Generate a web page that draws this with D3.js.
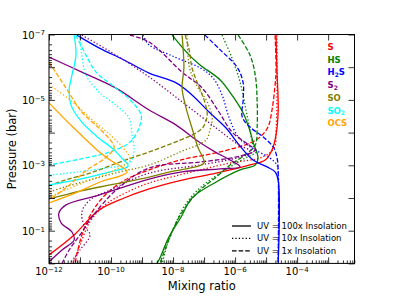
<!DOCTYPE html>
<html>
<head>
<meta charset="utf-8">
<script src="https://cdn.jsdelivr.net/npm/d3@7"></script>
<style>
  body { margin: 0; background: #fff; }
  text { font-family: "DejaVu Sans", sans-serif; }
</style>
</head>
<body>
<script>
// Mixing ratio profiles.
// Each point is [log10(mixing ratio), log10(pressure / bar)], top of atmosphere first.
const S_100x = [[-4.68,-6.98],[-4.65,-5.91],[-4.61,-4.69],[-4.68,-3.93],[-4.81,-3.47],[-5.03,-3.16],[-5.52,-3.01],[-6.61,-2.76],[-7.71,-2.55],[-8.77,-2.28],[-9.58,-2.00],[-10.39,-1.63],[-11.19,-0.87],[-12,-0.26]];
const S_10x  = [[-4.65,-6.98],[-4.65,-5.91],[-4.65,-5.0],[-4.68,-4.08],[-4.74,-3.53],[-5.13,-3.25],[-6.16,-3.07],[-7.13,-2.86],[-7.94,-2.67],[-8.77,-2.46],[-9.55,-2.15],[-10.19,-1.79],[-10.68,-1.27],[-11.0,-0.56],[-11.23,0]];
const S_1x   = [[-4.71,-6.98],[-4.68,-5.91],[-4.71,-5.46],[-4.81,-4.69],[-4.94,-4.17],[-5.19,-3.87],[-5.52,-3.68],[-6.48,-3.41],[-7.77,-3.16],[-8.77,-2.86],[-9.55,-2.55],[-10.19,-2.09],[-10.61,-1.57],[-10.94,-0.87],[-11.16,0]];

const HS_100x = [[-8.03,-6.98],[-7.48,-6.37],[-7.13,-6.07],[-6.48,-5.61],[-6.06,-5.09],[-5.74,-4.60],[-5.55,-4.14],[-5.42,-3.71],[-5.26,-3.22],[-5.35,-3.01],[-5.84,-2.86],[-6.61,-2.49],[-7.39,-2.0],[-7.74,-1.42],[-8.13,-0.81],[-8.45,-0.11],[-8.52,0]];
const HS_10x  = [[-6.42,-6.98],[-6.10,-6.28],[-5.84,-5.55],[-5.68,-4.84],[-5.55,-4.23],[-5.42,-3.62],[-5.32,-3.41],[-5.68,-3.22],[-6.48,-2.76],[-7.13,-2.31],[-7.61,-1.79],[-7.94,-1.17],[-8.19,-0.56],[-8.35,0]];
const HS_1x   = [[-5.90,-6.98],[-5.52,-6.37],[-5.35,-5.76],[-5.29,-5.0],[-5.29,-4.14],[-5.35,-3.62],[-5.68,-3.32],[-6.16,-3.01],[-6.61,-2.64],[-7.13,-2.24],[-7.71,-1.57],[-8.10,-0.81],[-8.42,0]];

const H2S_100x = [[-11.10,-6.98],[-10.39,-6.59],[-9.58,-6.22],[-8.77,-5.82],[-7.90,-5.52],[-7.39,-5.15],[-6.84,-4.63],[-6.29,-4.14],[-5.87,-3.62],[-5.42,-3.16],[-4.97,-2.95],[-4.71,-2.80],[-4.61,-2.55],[-4.61,0]];
const H2S_10x  = [[-8.97,-6.98],[-8.77,-6.68],[-7.94,-6.31],[-7.13,-5.98],[-6.71,-5.67],[-6.42,-5.15],[-6.19,-4.45],[-5.87,-3.83],[-5.35,-3.47],[-4.87,-3.22],[-4.65,-3.01],[-4.61,-2.80],[-4.61,0]];
const H2S_1x   = [[-6.97,-6.98],[-6.48,-6.53],[-5.94,-6.01],[-5.74,-5.52],[-5.74,-5.0],[-5.77,-4.48],[-5.52,-4.17],[-5.10,-3.87],[-4.77,-3.56],[-4.65,-3.25],[-4.61,-2.80],[-4.61,0]];

const S2_100x = [[-12,-6.31],[-10.94,-5.85],[-9.84,-5.36],[-8.77,-4.69],[-7.90,-4.23],[-7.16,-3.71],[-6.65,-3.41],[-6.16,-3.16],[-5.84,-2.95],[-6.48,-2.89],[-7.71,-2.80],[-8.77,-2.58],[-10.39,-2.09],[-11.45,-1.79],[-11.68,-1.54],[-11.61,-1.24],[-11.26,-0.96],[-11.19,-0.72],[-11.58,-0.41],[-12,-0.05]];
const S2_10x  = [[-10.94,-6.98],[-9.84,-6.37],[-8.77,-5.70],[-7.71,-4.94],[-6.61,-4.14],[-5.87,-3.62],[-5.45,-3.41],[-5.84,-3.25],[-7.13,-3.01],[-8.77,-2.76],[-10.03,-2.24],[-10.68,-1.94],[-10.94,-1.57],[-10.87,-1.17],[-10.68,-0.87],[-11.0,-0.41],[-11.32,0]];
const S2_1x   = [[-9.39,-6.98],[-8.77,-6.77],[-7.71,-5.85],[-7.06,-5.36],[-6.52,-4.63],[-6.10,-4.02],[-5.55,-3.62],[-5.35,-3.47],[-5.84,-3.28],[-7.13,-3.10],[-8.77,-2.92],[-9.84,-2.24],[-10.61,-1.42],[-11.0,-0.87],[-11.35,-0.41],[-11.58,0]];

const SO_100x = [[-7.71,-6.98],[-7.65,-5.98],[-7.71,-5.36],[-7.58,-4.75],[-7.39,-4.14],[-7.19,-3.53],[-7.03,-3.22],[-7.0,-3.07],[-7.16,-2.98],[-8.10,-2.80],[-8.77,-2.64],[-10.03,-2.40],[-11.0,-2.21],[-12,-1.97]];
const SO_10x  = [[-7.55,-6.98],[-7.52,-6.37],[-7.45,-5.91],[-7.19,-5.36],[-6.90,-4.94],[-6.74,-4.45],[-6.81,-4.08],[-6.94,-3.77],[-7.77,-3.41],[-8.77,-3.01],[-9.71,-2.80],[-10.68,-2.55],[-11.48,-2.34],[-12,-2.18]];
const SO_1x   = [[-7.61,-6.98],[-7.48,-6.53],[-7.39,-5.98],[-7.19,-5.46],[-7.0,-5.0],[-6.90,-4.54],[-7.03,-4.17],[-7.26,-3.99],[-7.77,-3.77],[-8.77,-3.41],[-9.71,-3.10],[-10.68,-2.76],[-11.48,-2.55],[-12,-2.37]];

const SO2_100x = [[-11.19,-6.98],[-11.13,-6.37],[-11.26,-5.76],[-11.35,-5.30],[-11.29,-4.84],[-10.94,-4.32],[-10.39,-3.83],[-9.97,-3.53],[-9.65,-3.22],[-9.45,-2.98],[-10.03,-2.80],[-11.0,-2.58],[-12,-2.40]];
const SO2_10x  = [[-11.03,-6.98],[-10.94,-6.37],[-10.81,-5.76],[-10.39,-5.24],[-9.84,-4.84],[-9.42,-4.45],[-9.32,-3.93],[-9.26,-3.47],[-9.39,-3.10],[-10.35,-2.89],[-12,-2.70]];
const SO2_1x   = [[-11.13,-6.98],[-10.81,-6.37],[-10.48,-5.85],[-9.84,-5.36],[-9.32,-4.94],[-9.03,-4.54],[-9.10,-4.14],[-9.39,-3.71],[-10.03,-3.41],[-11.0,-3.19],[-12,-3.01]];

const OCS_100x = [[-12,-4.91],[-11.23,-4.17],[-10.45,-3.47],[-10.03,-3.16],[-9.48,-2.80],[-10.35,-2.49],[-11.16,-2.15],[-12,-1.85]];
const OCS_10x  = [[-12,-5.46],[-11.32,-5.0],[-10.68,-4.45],[-10.03,-3.93],[-9.55,-3.47],[-9.39,-3.16],[-9.87,-2.86],[-10.68,-2.55],[-11.48,-2.24],[-12,-2.03]];
const OCS_1x   = [[-12,-6.16],[-11.45,-5.36],[-10.94,-4.63],[-10.39,-4.14],[-9.97,-3.71],[-9.90,-3.53],[-10.19,-3.22],[-10.77,-2.86],[-11.55,-2.24],[-12,-1.94]];

const species = ["S", "HS", "H2S", "S2", "SO", "SO2", "OCS"];
const uvLevels = ["100x", "10x", "1x"];
const uvLabels = ["UV = 100x Insolation", "UV = 10x Insolation", "UV = 1x Insolation"];
const xTickLabels = [-12, -10, -8, -6, -4];
const yTickLabels = [-7, -5, -3, -1];

// styles
const colors = { S: "red", HS: "green", H2S: "blue", S2: "purple", SO: "olive", SO2: "cyan", OCS: "orange" };
const dashes = { "100x": null, "10x": "1.3,2.1", "1x": "4.6,2" };

const profiles = {
  S:   { "100x": S_100x,   "10x": S_10x,   "1x": S_1x },
  HS:  { "100x": HS_100x,  "10x": HS_10x,  "1x": HS_1x },
  H2S: { "100x": H2S_100x, "10x": H2S_10x, "1x": H2S_1x },
  S2:  { "100x": S2_100x,  "10x": S2_10x,  "1x": S2_1x },
  SO:  { "100x": SO_100x,  "10x": SO_10x,  "1x": SO_1x },
  SO2: { "100x": SO2_100x, "10x": SO2_10x, "1x": SO2_1x },
  OCS: { "100x": OCS_100x, "10x": OCS_10x, "1x": OCS_1x }
};

const width = 394, height = 296;
const margin = { left: 49, right: 39.5, top: 34.5, bottom: 32.6 };

const svg = d3.select("body").append("svg")
  .attr("width", width)
  .attr("height", height);

const x = d3.scaleLog()
  .domain([1e-12, Math.pow(10, -2.15)])
  .range([margin.left, width - margin.right]);

const y = d3.scaleLog()
  .domain([1e-7, 1])
  .range([margin.top, height - margin.bottom]);

// clip the profiles to the plot box
svg.append("clipPath").attr("id", "clip")
  .append("rect")
  .attr("x", x.range()[0]).attr("y", y.range()[0])
  .attr("width", x.range()[1] - x.range()[0])
  .attr("height", y.range()[1] - y.range()[0]);

const line = d3.line()
  .x(d => x(Math.pow(10, d[0])))
  .y(d => y(Math.pow(10, d[1])))
  .curve(d3.curveCatmullRom.alpha(0.5));

const curves = [];
species.forEach(s => uvLevels.forEach(u => curves.push({ s, u, pts: profiles[s][u] })));

svg.append("g").attr("clip-path", "url(#clip)")
  .selectAll("path")
  .data(curves)
  .enter()
  .append("path")
  .attr("d", d => line(d.pts))
  .attr("fill", "none")
  .attr("stroke", d => colors[d.s])
  .attr("stroke-width", 1.3)
  .attr("stroke-dasharray", d => dashes[d.u]);

// tick values
function decades(lo, hi) {
  const out = [];
  for (let e = lo; e <= hi; e++) out.push(Math.pow(10, e));
  return out;
}
function minors(lo, hi, max) {
  const out = [];
  for (let e = lo; e <= hi; e++)
    for (let k = 2; k <= 9; k++) {
      const v = k * Math.pow(10, e);
      if (v < max) out.push(v);
    }
  return out;
}
const xMax = x.domain()[1];
const xMajor = decades(-12, -3);
const xMinor = minors(-12, -3, xMax);
const yMajor = decades(-7, 0);
const yMinor = minors(-7, -1, 1);

const bottom = height - margin.bottom;
const right = width - margin.right;

function tickAxis(axis, transform) {
  const g = svg.append("g").attr("transform", transform).call(axis);
  g.select(".domain").remove();
  g.selectAll("line").attr("stroke", "#000").attr("stroke-width", 0.8);
  g.selectAll("text").remove();
}

tickAxis(d3.axisBottom(x).tickValues(xMajor).tickSize(-6), `translate(0,${bottom})`);
tickAxis(d3.axisBottom(x).tickValues(xMinor).tickSize(-3), `translate(0,${bottom})`);
tickAxis(d3.axisTop(x).tickValues(xMajor).tickSize(-6), `translate(0,${margin.top})`);
tickAxis(d3.axisLeft(y).tickValues(yMajor).tickSize(-6), `translate(${margin.left},0)`);
tickAxis(d3.axisLeft(y).tickValues(yMinor).tickSize(-3), `translate(${margin.left},0)`);
tickAxis(d3.axisRight(y).tickValues(yMajor).tickSize(-6), `translate(${right},0)`);

// frame
svg.append("rect")
  .attr("x", margin.left).attr("y", margin.top)
  .attr("width", right - margin.left)
  .attr("height", bottom - margin.top)
  .attr("fill", "none")
  .attr("stroke", "#000")
  .attr("stroke-width", 1);

// power-of-ten tick labels
function powLabel(sel, e) {
  sel.append("tspan").text("10");
  sel.append("tspan")
    .attr("dy", "-0.45em")
    .style("font-size", "7px")
    .text("\u2212" + Math.abs(e));
}

svg.append("g").selectAll("text")
  .data(xTickLabels)
  .enter()
  .append("text")
  .attr("x", e => x(Math.pow(10, e)))
  .attr("y", bottom + 12)
  .attr("text-anchor", "middle")
  .style("font-size", "10px")
  .each(function (e) { powLabel(d3.select(this), e); });

svg.append("g").selectAll("text")
  .data(yTickLabels)
  .enter()
  .append("text")
  .attr("x", margin.left - 4)
  .attr("y", e => y(Math.pow(10, e)) + 4)
  .attr("text-anchor", "end")
  .style("font-size", "10px")
  .each(function (e) { powLabel(d3.select(this), e); });

// axis titles
svg.append("text")
  .attr("x", (margin.left + right) / 2)
  .attr("y", 290)
  .attr("text-anchor", "middle")
  .style("font-size", "11.5px")
  .text("Mixing ratio");

svg.append("text")
  .attr("transform", `translate(16,${(margin.top + bottom) / 2}) rotate(-90)`)
  .attr("text-anchor", "middle")
  .style("font-size", "11.5px")
  .text("Pressure (bar)");

// species legend
const speciesText = {
  S: [["S", false]], HS: [["HS", false]], H2S: [["H", false], ["2", true], ["S", false]],
  S2: [["S", false], ["2", true]], SO: [["SO", false]], SO2: [["SO", false], ["2", true]],
  OCS: [["OCS", false]]
};
const sLeg = svg.append("g").selectAll("text")
  .data(species)
  .enter()
  .append("text")
  .attr("x", 327.5)
  .attr("y", (d, i) => 50 + i * 12.7)
  .attr("fill", d => colors[d])
  .style("font-size", "8.5px")
  .style("font-weight", "bold");
sLeg.each(function (d) {
  const t = d3.select(this);
  let sub = false;
  speciesText[d].forEach(([str, isSub]) => {
    const sp = t.append("tspan").text(str);
    if (isSub && !sub) { sp.attr("dy", "0.3em").style("font-size", "6px"); sub = true; }
    else if (!isSub && sub) { sp.attr("dy", "-0.3em"); sub = false; }
  });
});

// UV legend
const uvLeg = svg.append("g").selectAll("g")
  .data(uvLevels)
  .enter()
  .append("g")
  .attr("transform", (d, i) => `translate(0,${226 + i * 12.4})`);
uvLeg.append("line")
  .attr("x1", 232).attr("x2", 251)
  .attr("stroke", "#000")
  .attr("stroke-width", 1.3)
  .attr("stroke-dasharray", d => dashes[d]);
uvLeg.append("text")
  .attr("x", 257)
  .attr("y", 3)
  .style("font-size", "8.5px")
  .text((d, i) => uvLabels[i]);
</script>
</body>
</html>
